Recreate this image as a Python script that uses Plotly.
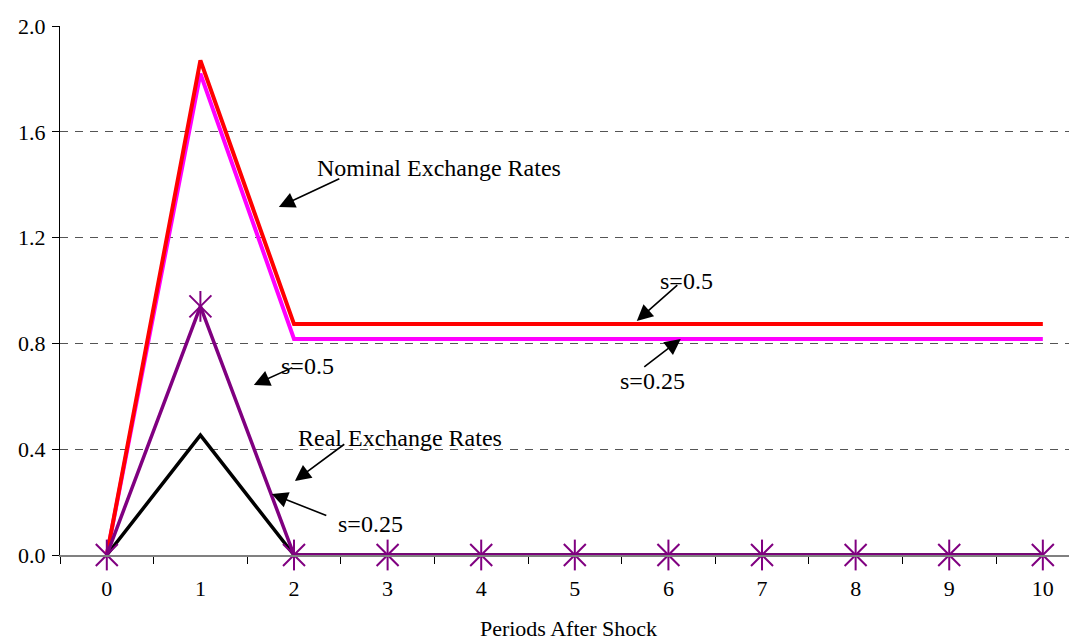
import plotly.graph_objects as go

periods = list(range(11))
period_labels = [str(p) for p in periods]
nominal_s05 = [0, 1.87, 0.873, 0.873, 0.873, 0.873, 0.873, 0.873, 0.873, 0.873, 0.873]
nominal_s025 = [0, 1.82, 0.817, 0.817, 0.817, 0.817, 0.817, 0.817, 0.817, 0.817, 0.817]
real_s05 = [0, 0.94, 0, 0, 0, 0, 0, 0, 0, 0, 0]
real_s025 = [0, 0.453, 0, 0, 0, 0, 0, 0, 0, 0, 0]
y_ticks = [0.0, 0.4, 0.8, 1.2, 1.6, 2.0]

FONT = "Liberation Serif"
PURPLE = "#800080"

fig = go.Figure()
fig.add_trace(go.Scatter(x=periods, y=nominal_s025, mode="lines",
                         line=dict(color="#FF00FF", width=4), cliponaxis=False))
fig.add_trace(go.Scatter(x=periods, y=nominal_s05, mode="lines",
                         line=dict(color="#FF0000", width=4), cliponaxis=False))
fig.add_trace(go.Scatter(x=periods, y=real_s025, mode="lines",
                         line=dict(color="#000000", width=3.5), cliponaxis=False))
fig.add_trace(go.Scatter(x=periods, y=real_s05, mode="lines+markers",
                         line=dict(color=PURPLE, width=3.5),
                         marker=dict(symbol="x-thin-open", size=22, color=PURPLE,
                                     line=dict(color=PURPLE, width=2)),
                         cliponaxis=False))
fig.add_trace(go.Scatter(x=periods, y=real_s05, mode="markers",
                         marker=dict(symbol="line-ns-open", size=22, color=PURPLE,
                                     line=dict(color=PURPLE, width=2)),
                         cliponaxis=False))

# text labels
texts = [
    ("Nominal Exchange Rates", 3.547, 1.463),
    ("s=0.5", 6.197, 1.036),
    ("s=0.25", 5.833, 0.658),
    ("s=0.5", 2.147, 0.715),
    ("Real Exchange Rates", 3.130, 0.442),
    ("s=0.25", 2.821, 0.117),
]
for t, x, y in texts:
    fig.add_annotation(x=x, y=y, text=t, showarrow=False,
                       font=dict(family=FONT, size=24, color="#000000"))

# arrows (tail -> head)
arrows = [
    (2.50, 1.425, 1.838, 1.316),
    (6.111, 1.025, 5.662, 0.885),
    (5.726, 0.707, 6.132, 0.817),
    (1.998, 0.711, 1.571, 0.643),
    (2.553, 0.423, 2.009, 0.280),
    (2.361, 0.147, 1.763, 0.231),
]
for tx, ty, hx, hy in arrows:
    fig.add_annotation(x=hx, y=hy, ax=tx, ay=ty, axref="x", ayref="y",
                       xref="x", yref="y", text="", showarrow=True,
                       arrowhead=2, arrowsize=2.0, arrowwidth=1.6,
                       arrowcolor="#000000")

fig.update_layout(
    width=1069, height=633,
    margin=dict(l=52, r=0, t=18, b=86),
    plot_bgcolor="white", paper_bgcolor="white",
    showlegend=False,
    font=dict(family=FONT, size=22, color="#000000"),
    xaxis=dict(range=[-0.5, 10.365], tickvals=periods, ticktext=period_labels,
               ticks="", showgrid=False, zeroline=False,
               showline=True, linecolor="#808080", linewidth=1.5,
               ticklabelstandoff=13,
               tickfont=dict(family=FONT, size=22),
               minor=dict(tickvals=[p - 0.5 for p in periods] + [10.5],
                          ticks="outside", ticklen=7, tickcolor="#000000",
                          showgrid=False),
               title=dict(text="Periods After Shock", standoff=21,
                          font=dict(family=FONT, size=22))),
    yaxis=dict(range=[0, 2.0], tickvals=y_ticks,
               ticktext=[f"{v:.1f}" for v in y_ticks],
               ticks="outside", ticklen=7, tickcolor="#000000",
               ticklabelstandoff=2,
               tickfont=dict(family=FONT, size=22),
               showline=True, linecolor="#000000", linewidth=1,
               showgrid=True, gridcolor="#555555", griddash="8px,7px",
               gridwidth=1, zeroline=False),
)

fig.write_html("out.html")
